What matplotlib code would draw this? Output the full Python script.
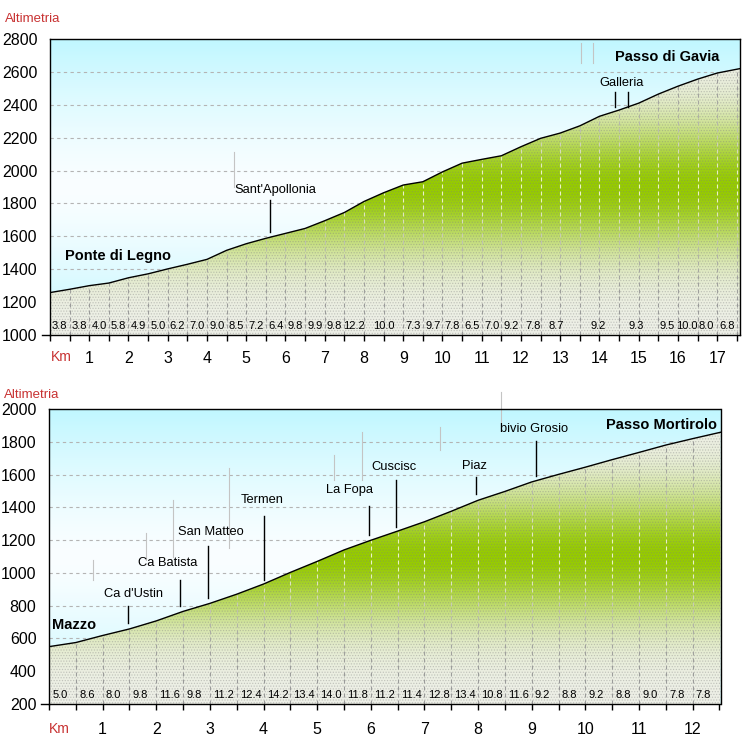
import numpy as np
import matplotlib
matplotlib.use('Agg')
import matplotlib.pyplot as plt
from matplotlib.patches import Polygon
from matplotlib.collections import LineCollection

plt.rcParams['font.family'] = ['Liberation Sans', 'DejaVu Sans']
plt.rcParams['hatch.linewidth'] = 0.6

# ---------------- data: Ponte di Legno -> Passo di Gavia ----------------
gavia_km = [0.0, 0.5, 1.0, 1.5, 2.0, 2.5, 3.0, 3.5, 4.0, 4.5, 5.0, 5.5, 6.0, 6.5,
            7.0, 7.5, 8.0, 8.5, 9.0, 9.5, 10.0, 10.5, 11.0, 11.5, 12.0, 12.5, 13.0,
            13.5, 14.0, 14.5, 15.0, 15.5, 16.0, 16.5, 17.0, 17.58]
gavia_alt = [1258, 1278, 1300, 1316, 1348, 1372, 1402, 1430, 1460, 1515, 1555, 1588,
             1618, 1648, 1695, 1745, 1812, 1865, 1912, 1932, 1992, 2045, 2068, 2090,
             2145, 2196, 2228, 2272, 2330, 2368, 2410, 2465, 2513, 2556, 2593, 2620]
gavia_grad = ['3.8', '3.8', '4.0', '5.8', '4.9', '5.0', '6.2', '7.0', '9.0', '8.5',
              '7.2', '6.4', '9.8', '9.9', '9.8', '12.2', '10.0', '7.3', '9.7', '7.8',
              '6.5', '7.0', '9.2', '7.8', '8.7', '9.2', '9.3', '9.5', '10.0', '8.0', '6.8']
gavia_grad_km = [0.25, 0.75, 1.25, 1.75, 2.25, 2.75, 3.25, 3.75, 4.25, 4.75, 5.25,
                 5.75, 6.25, 6.75, 7.25, 7.75, 8.5, 9.25, 9.75, 10.25, 10.75, 11.25,
                 11.75, 12.3, 12.9, 13.97, 14.94, 15.72, 16.23, 16.73, 17.24]
gavia_yticks = [1000, 1200, 1400, 1600, 1800, 2000, 2200, 2400, 2600, 2800]
gavia_xlabels = [1, 2, 3, 4, 5, 6, 7, 8, 9, 10, 11, 12, 13, 14, 15, 16, 17]
gavia_places = ["Sant'Apollonia", "Galleria"]
gavia_place_xy = [(5.73, 1882), (14.55, 2532)]
gavia_leaders = [(5.6, 1626, 1821), (14.4, 2386, 2478), (14.73, 2386, 2478)]
gavia_ends = ["Ponte di Legno", "Passo di Gavia"]
gavia_end_xy = [(0.38, 1480), (17.05, 2690)]
gavia_ghosts = [(4.68, 1900, 2113), (13.54, 2654, 2776), (13.84, 2654, 2776)]

# ---------------- data: Mazzo -> Passo Mortirolo ----------------
mort_km = [0.0, 0.5, 1.0, 1.5, 2.0, 2.5, 3.0, 3.5, 4.0, 4.5, 5.0, 5.5, 6.0, 6.5,
           7.0, 7.5, 8.0, 8.5, 9.0, 9.5, 10.0, 10.5, 11.0, 11.5, 12.0, 12.52]
mort_alt = [550, 575, 618, 658, 707, 765, 814, 870, 932, 1003, 1070, 1140, 1199,
            1255, 1312, 1376, 1443, 1497, 1555, 1601, 1645, 1691, 1735, 1780, 1819, 1858]
mort_grad = ['5.0', '8.6', '8.0', '9.8', '11.6', '9.8', '11.2', '12.4', '14.2', '13.4',
             '14.0', '11.8', '11.2', '11.4', '12.8', '13.4', '10.8', '11.6', '9.2',
             '8.8', '9.2', '8.8', '9.0', '7.8', '7.8']
mort_grad_km = [0.0, 0.5, 1.0, 1.5, 2.0, 2.5, 3.0, 3.5, 4.0, 4.5, 5.0, 5.5, 6.0, 6.5,
                7.0, 7.5, 8.0, 8.5, 9.0, 9.5, 10.0, 10.5, 11.0, 11.5, 12.0]
mort_yticks = [200, 400, 600, 800, 1000, 1200, 1400, 1600, 1800, 2000]
mort_xlabels = [1, 2, 3, 4, 5, 6, 7, 8, 9, 10, 11, 12]
mort_places = ["Ca d'Ustin", "Ca Batista", "San Matteo", "Termen", "La Fopa",
               "Cuscisc", "Piaz", "bivio Grosio"]
mort_place_xy = [(1.57, 871), (2.22, 1060), (3.01, 1250), (3.98, 1445), (5.61, 1506),
                 (6.43, 1646), (7.94, 1652), (9.05, 1878)]
mort_leaders = [(1.48, 694, 798), (2.45, 798, 957), (2.97, 847, 1164), (4.0, 957, 1347),
                (5.96, 1231, 1408), (6.47, 1280, 1567), (7.96, 1481, 1585),
                (9.08, 1591, 1805)]
mort_ends = ["Mazzo", "Passo Mortirolo"]
mort_end_xy = [(0.06, 682), (12.45, 1902)]
mort_ghosts = [(0.82, 957, 1079), (1.81, 1079, 1243), (2.32, 1097, 1445),
               (3.35, 1152, 1640), (5.31, 1567, 1719), (5.83, 1567, 1860),
               (7.29, 1750, 1890), (8.43, 1884, 2104)]

# ---------------- styling helpers ----------------
W, H = 742, 750
fig = plt.figure(figsize=(W / 100, H / 100), dpi=100)

CYAN = np.array([192, 247, 255]) / 255.0
WHITE = np.array([250, 254, 255]) / 255.0
GREEN = np.array([150, 203, 0]) / 255.0
PALE = np.array([238, 240, 232]) / 255.0
RED = '#c83232'


def green_strength(t):
    return np.exp(-((t - 0.5) / 0.21) ** 2)


def sky_strength(t):
    return np.abs(2 * t - 1) ** 1.4


def draw_chart(ax, km, alt, xmax, ymin, ymax, yticks, xlabels, grad, grad_km,
               grad_left, grad_y, places, place_xy, leaders, ends, end_xy, ghosts,
               xpad):
    ax.set_xlim(0, xmax)
    ax.set_ylim(ymin, ymax)
    n = 300
    t = np.linspace(0, 1, n)[:, None]
    sky = WHITE + (CYAN - WHITE) * sky_strength(t)
    sky_img = np.repeat(sky[:, None, :], 2, axis=1).reshape(n, 2, 3)
    ax.imshow(sky_img, extent=[0, xmax, ymin, ymax], aspect='auto', origin='upper',
              zorder=0, interpolation='bilinear')
    for yv in yticks[1:-1]:
        ax.axhline(yv, color='#b4b4b4', lw=0.8, ls=(0, (3, 3)), zorder=1)

    verts = [(km[0], ymin)] + list(zip(km, alt)) + [(km[-1], ymin)]
    poly = Polygon(verts, closed=True, facecolor='none', edgecolor='none')
    ax.add_patch(poly)
    ground = PALE + (GREEN - PALE) * green_strength(t)
    ground_img = np.repeat(ground[:, None, :], 2, axis=1).reshape(n, 2, 3)
    im = ax.imshow(ground_img, extent=[0, xmax, ymin, ymax], aspect='auto',
                   origin='upper', zorder=2, interpolation='bilinear')
    im.set_clip_path(poly)
    hatch = Polygon(verts, closed=True, facecolor='none',
                    edgecolor=(0.5, 0.5, 0.5, 0.35), hatch='......', lw=0, zorder=2.5)
    ax.add_patch(hatch)

    # vertical dashed lines up to the profile
    fig.canvas.draw()
    bbox = ax.get_window_extent()
    upp = (ymax - ymin) / bbox.height
    on, off = 4 * upp, 3 * upp
    segs, cols = [], []
    xs = np.arange(0.5, xmax - 0.05, 0.5)
    tops = np.interp(xs, km, alt)
    grey = np.array([0.6, 0.6, 0.6])
    light = np.array([0.93, 0.96, 0.78])
    for x, top in zip(xs, tops):
        y = ymin
        while y < top:
            y1 = min(y + on, top)
            segs.append([(x, y), (x, y1)])
            tt = (ymax - (y + y1) / 2) / (ymax - ymin)
            f = green_strength(tt)
            cols.append(grey + (light - grey) * f)
            y = y1 + off
    ax.add_collection(LineCollection(segs, colors=cols, linewidths=0.8, zorder=3))

    ax.plot(km, alt, color='black', lw=1.0, zorder=4)

    for g in ghosts:
        ax.plot([g[0], g[0]], [g[1], g[2]], color='#c4c4c4', lw=0.8, zorder=1.5,
                clip_on=False)

    for s, xk in zip(grad, grad_km):
        if grad_left:
            ax.text(xk + 0.06, grad_y, s, ha='left', va='center', fontsize=8, zorder=5)
        else:
            ax.text(xk, grad_y, s, ha='center', va='center', fontsize=8, zorder=5)

    for s, (xp, yp) in zip(places, place_xy):
        ax.text(xp, yp, s, ha='center', va='center', fontsize=9.3, zorder=5)
    for (xl, y0, y1) in leaders:
        ax.plot([xl, xl], [y0, y1], color='black', lw=1.0, zorder=5)
    ax.text(end_xy[0][0], end_xy[0][1], ends[0], ha='left', va='center',
            fontsize=10.5, fontweight='bold', zorder=5)
    ax.text(end_xy[1][0], end_xy[1][1], ends[1], ha='right', va='center',
            fontsize=10.5, fontweight='bold', zorder=5)

    ax.set_yticks(yticks)
    ax.set_yticklabels([str(v) for v in yticks], fontsize=11.5)
    ax.tick_params(axis='y', length=0, pad=9)
    ax.set_xticks(np.arange(0, xmax + 0.01, 0.5), minor=True)
    ax.set_xticks(xlabels)
    ax.set_xticklabels([str(v) for v in xlabels], fontsize=11.5)
    ax.tick_params(axis='x', which='both', direction='out', length=4.5, width=1,
                   color='black', pad=xpad)
    for sp in ax.spines.values():
        sp.set_color('black')
        sp.set_linewidth(1.0)
        sp.set_zorder(6)
    ax.plot([-0.012, 0], [0, 0], transform=ax.transAxes, color='black', lw=1,
            clip_on=False, zorder=6)
    ax.text(0.016, -0.074 if xpad < 8 else -0.085, 'Km', transform=ax.transAxes,
            ha='center', va='center', fontsize=10, color=RED)


ax1 = fig.add_axes([50 / W, (H - 335) / H, 690 / W, 296 / H])
draw_chart(ax1, gavia_km, gavia_alt, 17.58, 1000, 2800, gavia_yticks, gavia_xlabels,
           gavia_grad, gavia_grad_km, False, 1055, gavia_places, gavia_place_xy,
           gavia_leaders, gavia_ends, gavia_end_xy, gavia_ghosts, 7)

ax2 = fig.add_axes([49 / W, (H - 704) / H, 671.5 / W, 295 / H])
draw_chart(ax2, mort_km, mort_alt, 12.52, 200, 2000, mort_yticks, mort_xlabels,
           mort_grad, mort_grad_km, True, 255, mort_places, mort_place_xy,
           mort_leaders, mort_ends, mort_end_xy, mort_ghosts, 8.5)

fig.text(5 / W, 1 - 19 / H, 'Altimetria', ha='left', va='center', fontsize=9.5,
         color=RED)
fig.text(4 / W, 1 - 395 / H, 'Altimetria', ha='left', va='center', fontsize=9.5,
         color=RED)

fig.savefig('out.png', dpi=100)
